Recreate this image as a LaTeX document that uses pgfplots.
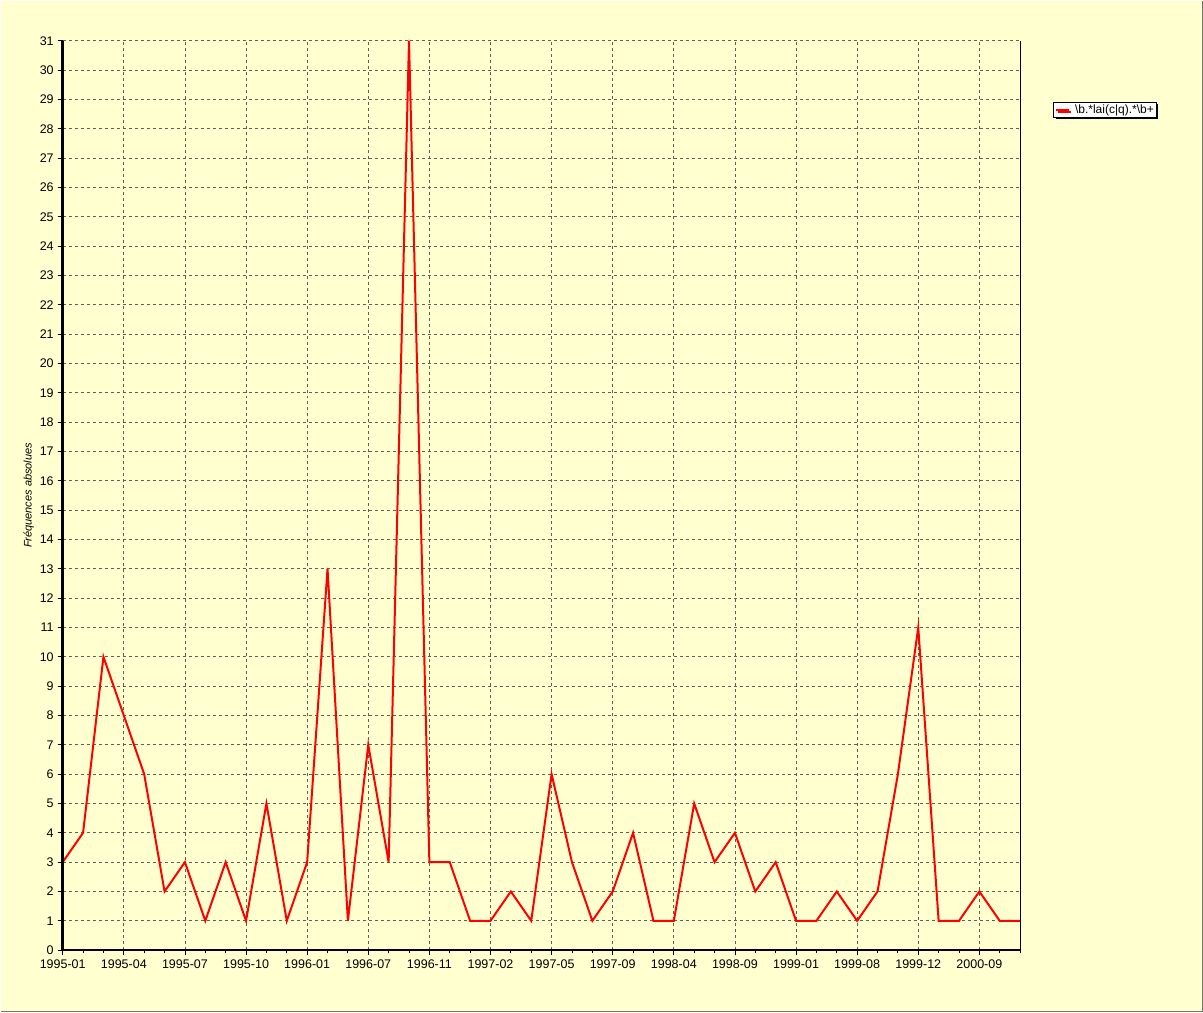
\documentclass[border=0pt]{standalone}
\usepackage{fontspec}
\setmainfont{Liberation Sans}
\usepackage{pgfplots}
\pgfplotsset{compat=1.18}
\usetikzlibrary{shadows}
\definecolor{bg}{RGB}{255,255,208}
\definecolor{gridc}{RGB}{95,95,85}
\begin{document}
\begin{tikzpicture}[x=1pt,y=1pt]
\fill[bg] (0,0) rectangle (1203,1012);
\draw[black!55, line width=1.5pt] (0,0.75) -- (1202.25,0.75) -- (1202.25,1012);
\path[use as bounding box] (0,0) rectangle (1203,1012);
\begin{axis}[
  at={(62pt,62pt)}, anchor=south west,
  scale only axis, width=958pt, height=910pt,
  xmin=0, xmax=47, ymin=0, ymax=31,
  ytick={0,...,31},
  xtick={0,3,...,45},
  xticklabels={1995-01,1995-04,1995-07,1995-10,1996-01,1996-07,1996-11,1997-02,1997-05,1997-09,1998-04,1998-09,1999-01,1999-08,1999-12,2000-09},
  minor xtick={0,...,47},
  grid=major,
  major grid style={gridc, dash pattern=on 3pt off 3pt, line width=0.8pt},
  tick align=outside, tick pos=left,
  major tick length=5pt, minor tick length=3pt,
  every tick/.style={black, line width=0.8pt},
  ticklabel style={font=\fontsize{12.5}{14}\selectfont},
  xticklabel style={yshift=-1pt},
  yticklabel style={xshift=-0.5pt},
  /pgf/number format/assume math mode=true,
  axis line style={draw=none},
  ylabel={Fréquences absolues},
  ylabel style={font=\fontsize{11}{12}\selectfont\itshape, yshift=-1pt},
  legend style={at={(rel axis cs:1.0345,0.933)}, anchor=north west, draw=black, fill=white,
    drop shadow={shadow xshift=2pt, shadow yshift=-2pt, fill=black, opacity=1},
    font=\fontsize{12}{14}\selectfont, inner sep=1pt, line width=0.8pt,
    nodes={inner sep=1.5pt}},
  legend image code/.code={\path (0pt,0pt) -- (13pt,0pt);
     \draw[red, line width=2pt] (1pt,0pt) -- (12pt,0pt);},
]
\addplot[red, line width=2pt, mark=none] coordinates {
(0,3) (1,4) (2,10) (3,8) (4,6) (5,2) (6,3) (7,1) (8,3) (9,1)
(10,5) (11,1) (12,3) (13,13) (14,1) (15,7) (16,3) (17,31) (18,3) (19,3)
(20,1) (21,1) (22,2) (23,1) (24,6) (25,3) (26,1) (27,2) (28,4) (29,1)
(30,1) (31,5) (32,3) (33,4) (34,2) (35,3) (36,1) (37,1) (38,2) (39,1)
(40,2) (41,6) (42,11) (43,1) (44,1) (45,2) (46,1) (47,1)
};
\addlegendentry{\hspace{4pt}\textbackslash b.*lai(c|q).*\textbackslash b+}
\end{axis}
\draw[black, line width=2.5pt] (62,972) -- (62,62) -- (1020,62);
\draw[black, line width=1pt] (1020,62) -- (1020,972);
\end{tikzpicture}
\end{document}
